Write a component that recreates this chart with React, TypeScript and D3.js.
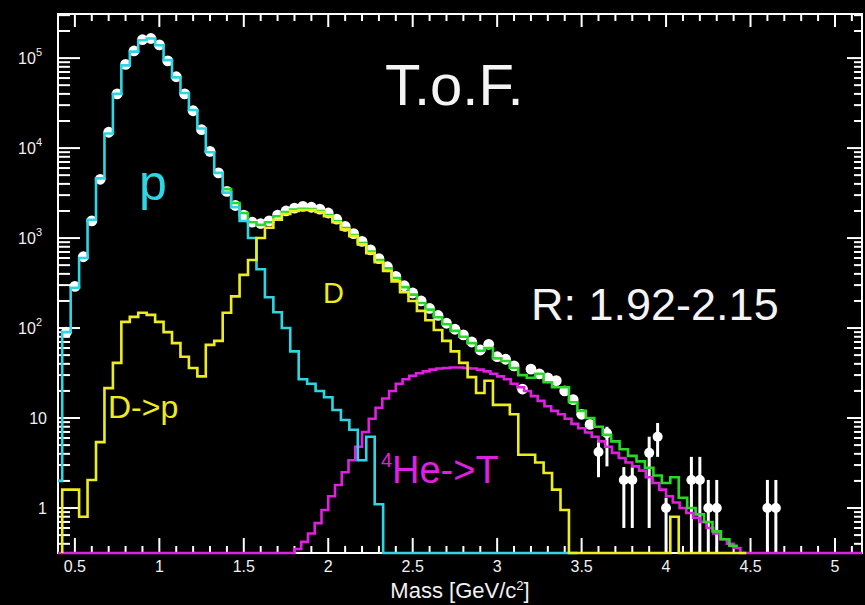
import React from 'react';
import * as d3 from 'd3';

const W = 865;
const H = 605;
const X_DOMAIN: [number, number] = [0.4, 5.16];
const Y_DOMAIN: [number, number] = [Math.pow(10, -0.5), Math.pow(10, 5.49)];

const BIN = 0.05;

// proton (cyan) histogram, bin centres from pStart
const pStart = 0.4;
const pCounts = [
  2, 90, 280, 600, 1600, 4600, 14500, 40000, 83000, 118000, 158000, 165000, 139000,
  95000, 61000, 41000, 26500, 16500, 9000, 5300, 3200, 2200, 1550, 1000, 450, 220,
  150, 100, 55, 27, 24, 20, 17, 12.3, 9.5, 7.4, 3.4, 6.2, 1.1,
  0, 0, 0, 0, 0, 0, 0, 0, 0, 0, 0, 0, 0, 0, 0, 0, 0, 0, 0, 0, 0, 0, 0,
];

// deuteron (yellow) histogram incl. D->p
const dStart = 0.45;
const dCounts = [
  1.6, 1.6, 0.8, 2.05, 5.4, 21.5, 41, 117, 133, 148, 140, 117, 90, 68, 48, 36, 29,
  65, 72, 148, 225, 390, 570, 1000, 1300, 1600, 1850, 2000, 2050, 2050, 1950, 1750,
  1500, 1250, 1050, 850, 680, 540, 430, 330, 250, 200, 155, 122, 95, 72, 55, 41,
  28.5, 19, 26, 14, 14, 11, 3.9, 3.9, 3.2, 2.45, 1.6, 0.95,
  0, 0, 0, 0, 0, 0, 0, 0, 0, 0, 0, 0, 0.8, 0, 0, 0, 0, 0, 0, 0, 0,
];

// 4He->T (magenta) histogram
const heStart = 1.82;
const heBin = 0.04;
const heCounts = [
  0.35, 0.42, 0.52, 0.68, 0.95, 1.35, 1.8, 2.5, 3.4, 4.8,
  7.0, 9.8, 13, 16.5, 20, 24, 27, 29.5, 31.5, 33,
  34.5, 35.5, 36, 36.5, 36.5, 36, 35.5, 34.5, 33, 31,
  29, 27, 24, 22, 20, 17.5, 15.5, 13.5, 12, 11,
  9.8, 8.6, 7.7, 6.9, 6.2, 5.5, 4.8, 4.1, 3.6, 3.2,
  2.9, 2.6, 2.2, 1.9, 1.6, 1.35, 1.15, 1.0, 0.88, 0.78,
  0.7, 0.6, 0.52, 0.45, 0.4, 0.36,
];

// total fit (green)
const totStart = 1.4;
const totCounts = [
  3500, 2450, 1900, 1500, 1400, 1500, 1750, 1950, 2080, 2120, 2100, 2000, 1800, 1540,
  1290, 1080, 880, 710, 570, 460, 360, 285, 235, 190, 160, 132, 110, 93, 80, 68, 56,
  60, 46, 43, 36, 30, 28, 31, 25, 22, 22, 15, 12, 10, 8, 6.5, 5.5, 4.5, 3.8, 3.3,
  2.8, 2.3, 1.9, 2.2, 1.3, 1.0, 0.85, 0.7, 0.55, 0.45, 0.38,
];

// data points (white)
const dataStart = 0.45;
const dataCounts = [
  90, 290, 620, 1550, 4500, 15000, 40000, 85000, 120000, 160000, 165000, 140000,
  93000, 62000, 40000, 26000, 16000, 9200, 5300, 3300, 2300, 1800, 1500, 1450, 1550,
  1800, 2000, 2150, 2250, 2200, 2100, 1900, 1620, 1350, 1120, 920, 740, 590, 480, 375,
  295, 245, 200, 165, 138, 113, 97, 84, 70, 57, 66, 48, 45, 38, 21, 35, 31, 28, 26,
  20, 16, 11, 8.5,
];

// low-statistics tail points with error bars
const tailMass = [3.6, 3.65, 3.75, 3.8, 3.9, 3.95, 4.0, 4.15, 4.2, 4.25, 4.3, 4.6, 4.65];
const tailVal = [4.2, 6.8, 2.05, 2.05, 4.1, 6.2, 1.0, 2.05, 2.05, 1.0, 1.0, 1.0, 1.0];
const tailHi = [5.7, 8.0, 2.85, 2.85, 6.2, 8.8, 1.3, 3.7, 3.7, 2.05, 2.05, 2.05, 2.05];
const tailLo = [2.2, 2.9, 0.6, 0.6, 0.6, 3.7, 0, 0, 0, 0, 0, 0, 0];

const xMajorTicks = [0.5, 1, 1.5, 2, 2.5, 3, 3.5, 4, 4.5, 5];
const xTickLabels = ['0.5', '1', '1.5', '2', '2.5', '3', '3.5', '4', '4.5', '5'];
const yDecades = [0, 1, 2, 3, 4, 5];

const COL_P = '#2ed6e4';
const COL_D = '#ecec1e';
const COL_HE = '#e020e0';
const COL_TOT = '#2ad82a';
const FONT = '"Liberation Sans", Arial, sans-serif';

const PLOT = { left: 58, right: 862, top: 14, bottom: 553 };

export default function App() {
  const x = d3.scaleLinear().domain(X_DOMAIN).range([PLOT.left, PLOT.right]);
  const y = d3.scaleLog().domain(Y_DOMAIN).range([PLOT.bottom, PLOT.top]).clamp(true);
  const floor = Y_DOMAIN[0];

  const line = d3
    .line<[number, number]>()
    .x((d) => x(d[0]))
    .y((d) => y(Math.max(d[1], floor)))
    .curve(d3.curveStepAfter);

  const histPath = (
    start: number,
    width: number,
    counts: number[],
    floorStart = true,
    floorEnd = true,
    extendFull = false
  ) => {
    const pts: [number, number][] = [];
    const e0 = start - width / 2;
    if (extendFull) pts.push([X_DOMAIN[0], floor]);
    if (floorStart) pts.push([e0, floor]);
    counts.forEach((c, i) => pts.push([e0 + i * width, c]));
    const eN = e0 + counts.length * width;
    pts.push([eN, counts[counts.length - 1]]);
    if (floorEnd) pts.push([eN, floor]);
    if (extendFull) pts.push([X_DOMAIN[1], floor]);
    return line(pts) || '';
  };

  // ticks
  const xMinor: number[] = [];
  for (let i = 5; i <= 51; i++) {
    const v = i / 10;
    if (v >= X_DOMAIN[0] && v <= X_DOMAIN[1] && Math.abs(v * 2 - Math.round(v * 2)) > 1e-6) xMinor.push(v);
  }
  const yMinor: number[] = [];
  for (let k = -1; k <= 5; k++) {
    for (let m = 2; m <= 9; m++) {
      const v = m * Math.pow(10, k);
      if (v >= Y_DOMAIN[0] && v <= Y_DOMAIN[1]) yMinor.push(v);
    }
  }
  const yMajor = yDecades.map((k) => Math.pow(10, k));

  const tickStyle = { stroke: '#fff', strokeWidth: 2 };
  const lw = 2.6;

  return (
    <svg
      width={W}
      height={H}
      style={{ position: 'absolute', left: 0, top: 0, background: '#000' }}
    >
      <rect x={0} y={0} width={W} height={H} fill="#000" />
      <defs>
        <clipPath id="plotclip">
          <rect x={PLOT.left} y={PLOT.top} width={PLOT.right - PLOT.left} height={PLOT.bottom - PLOT.top + 3} />
        </clipPath>
      </defs>

      {/* frame */}
      <rect
        x={PLOT.left}
        y={PLOT.top}
        width={PLOT.right - PLOT.left}
        height={PLOT.bottom - PLOT.top}
        fill="none"
        stroke="#fff"
        strokeWidth={2}
      />

      {/* x ticks */}
      {xMajorTicks.map((v) => (
        <g key={'xM' + v}>
          <line x1={x(v)} x2={x(v)} y1={PLOT.bottom} y2={PLOT.bottom - 15} {...tickStyle} />
          <line x1={x(v)} x2={x(v)} y1={PLOT.top} y2={PLOT.top + 13} {...tickStyle} />
        </g>
      ))}
      {xMinor.map((v) => (
        <g key={'xm' + v}>
          <line x1={x(v)} x2={x(v)} y1={PLOT.bottom} y2={PLOT.bottom - 7} {...tickStyle} />
          <line x1={x(v)} x2={x(v)} y1={PLOT.top} y2={PLOT.top + 7} {...tickStyle} />
        </g>
      ))}
      {/* y ticks */}
      {yMajor.map((v) => (
        <g key={'yM' + v}>
          <line x1={PLOT.left} x2={PLOT.left + 22} y1={y(v)} y2={y(v)} {...tickStyle} />
          <line x1={PLOT.right} x2={PLOT.right - 15} y1={y(v)} y2={y(v)} {...tickStyle} />
        </g>
      ))}
      {yMinor.map((v) => (
        <g key={'ym' + v}>
          <line x1={PLOT.left} x2={PLOT.left + 12} y1={y(v)} y2={y(v)} {...tickStyle} />
          <line x1={PLOT.right} x2={PLOT.right - 8} y1={y(v)} y2={y(v)} {...tickStyle} />
        </g>
      ))}

      {/* tick labels */}
      {xMajorTicks.map((v, i) => (
        <text
          key={'xl' + v}
          x={x(v)}
          y={572}
          fill="#f2f2f2"
          fontSize={16}
          fontFamily={FONT}
          textAnchor="middle"
        >
          {xTickLabels[i]}
        </text>
      ))}
      {yDecades.map((k) => (
        <text
          key={'yl' + k}
          x={k >= 2 ? 42 : 47}
          y={y(Math.pow(10, k)) + 6}
          fill="#f2f2f2"
          fontSize={16}
          fontFamily={FONT}
          textAnchor="end"
        >
          {k === 0 ? '1' : '10'}
          {k >= 2 ? (
            <tspan dy={-8} fontSize={11}>
              {String(k)}
            </tspan>
          ) : null}
        </text>
      ))}
      <text x={460} y={598} fill="#f2f2f2" fontSize={22} fontFamily={FONT} textAnchor="middle">
        Mass [GeV/c
        <tspan dy={-8} fontSize={13}>
          2
        </tspan>
        <tspan dy={8}>]</tspan>
      </text>

      <g clipPath="url(#plotclip)">
        {/* data points */}
        {dataCounts.map((c, i) => (
          <circle key={'d' + i} cx={x(dataStart + i * BIN)} cy={y(c)} r={5.4} fill="#fff" />
        ))}
        {tailMass.map((m, i) => (
          <g key={'t' + i}>
            <line
              x1={x(m)}
              x2={x(m)}
              y1={y(Math.max(tailLo[i], floor))}
              y2={y(tailHi[i])}
              stroke="#fff"
              strokeWidth={3}
            />
            <circle cx={x(m)} cy={y(tailVal[i])} r={5} fill="#fff" />
          </g>
        ))}

        {/* histograms */}
        <path d={histPath(heStart, heBin, heCounts, true, true, true)} fill="none" stroke={COL_HE} strokeWidth={lw} />
        <path d={histPath(totStart, BIN, totCounts, false, false)} fill="none" stroke={COL_TOT} strokeWidth={lw} />
        <path d={histPath(pStart, BIN, pCounts, true, true)} fill="none" stroke={COL_P} strokeWidth={lw} />
        <path d={histPath(dStart, BIN, dCounts, true, true)} fill="none" stroke={COL_D} strokeWidth={lw} />
      </g>

      {/* annotations */}
      <text x={385} y={105} fill="#f4f4f4" fontSize={58} fontFamily={FONT}>
        T.o.F.
      </text>
      <text x={139} y={200} fill={COL_P} fontSize={50} fontFamily={FONT}>
        p
      </text>
      <text x={323} y={303} fill={COL_D} fontSize={29} fontFamily={FONT}>
        D
      </text>
      <text x={531} y={320} fill="#f4f4f4" fontSize={45} fontFamily={FONT}>
        R: 1.92-2.15
      </text>
      <text x={108} y={418} fill={COL_D} fontSize={32} fontFamily={FONT}>
        D-&gt;p
      </text>
      <text x={381} y={467} fill={COL_HE} fontSize={20} fontFamily={FONT}>
        4
      </text>
      <text x={392} y={483} fill={COL_HE} fontSize={38} fontFamily={FONT}>
        He-&gt;T
      </text>
    </svg>
  );
}
